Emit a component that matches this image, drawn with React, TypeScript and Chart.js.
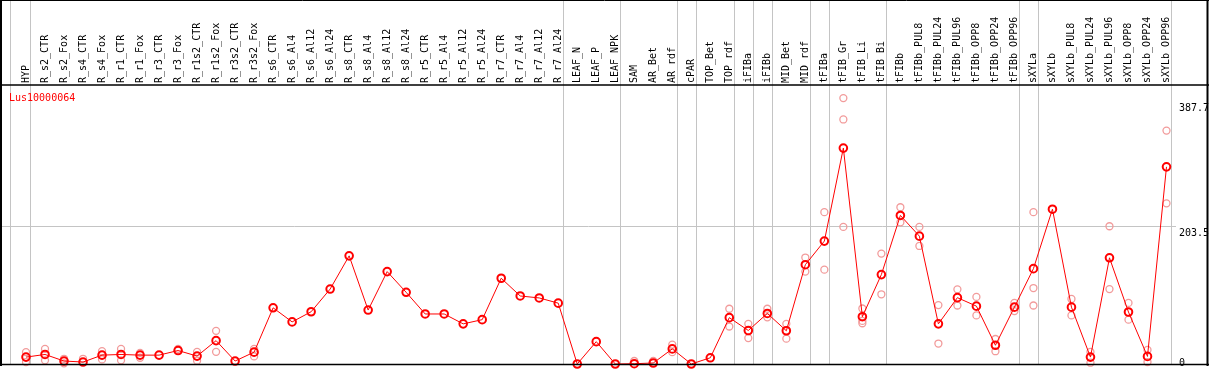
import React, { useEffect, useRef } from 'react';
import { Chart, registerables } from 'chart.js';

Chart.register(...registerables);

const FONT = "'DejaVu Sans Mono', 'Liberation Mono', monospace";

const titleText = 'Lus10000064';

const categories = [
  'HYP', 'R_s2_CTR', 'R_s2_Fox', 'R_s4_CTR', 'R_s4_Fox', 'R_r1_CTR', 'R_r1_Fox', 'R_r3_CTR', 'R_r3_Fox',
  'R_r1s2_CTR', 'R_r1s2_Fox', 'R_r3s2_CTR', 'R_r3s2_Fox', 'R_s6_CTR', 'R_s6_Al4', 'R_s6_Al12', 'R_s6_Al24',
  'R_s8_CTR', 'R_s8_Al4', 'R_s8_Al12', 'R_s8_Al24', 'R_r5_CTR', 'R_r5_Al4', 'R_r5_Al12', 'R_r5_Al24',
  'R_r7_CTR', 'R_r7_Al4', 'R_r7_Al12', 'R_r7_Al24', 'LEAF_N', 'LEAF_P', 'LEAF_NPK', 'SAM', 'AR_Bet', 'AR_rdf',
  'cPAR', 'TOP_Bet', 'TOP_rdf', 'iFIBa', 'iFIBb', 'MID_Bet', 'MID_rdf', 'tFIBa', 'tFIB_Gr', 'tFIB_Li', 'tFIB_Bi',
  'tFIBb', 'tFIBb_PUL8', 'tFIBb_PUL24', 'tFIBb_PUL96', 'tFIBb_OPP8', 'tFIBb_OPP24', 'tFIBb_OPP96',
  'sXYLa', 'sXYLb', 'sXYLb_PUL8', 'sXYLb_PUL24', 'sXYLb_PUL96', 'sXYLb_OPP8', 'sXYLb_OPP24', 'sXYLb_OPP96',
];

const means = [
  10.2, 14.1, 4.4, 2.9, 13.1, 14.1, 13.1, 13.1, 19.9, 11.7, 34.5, 4.4, 17.5,
  83.0, 62.2, 77.2, 110.7, 159.8, 79.7, 136.5, 105.9, 73.9, 73.9, 59.3, 65.5, 126.7, 100.5, 97.6, 89.9,
  0, 33.0, 0, 0.4, 1.5, 22.3, 0, 9.2,
  68.5, 49.5, 74.7, 49.1, 146.7, 181.6, 319.0, 69.9, 132.1,
  219.5, 188.9, 59.3, 98.0, 85.5, 27.7, 84.0, 140.9,
  228.7, 84.0, 10.2, 156.9, 76.8, 11.2, 291.3,
];

const rep1 = [
  17.5, 22.3, 7.7, 7.7, 18.9, 22.3, 16.5, null, 22.3, 18.0, 49.0, null, 22.3,
  null, null, null, null, null, null, null, null, null, null, null, null, null, null, null, null,
  null, null, null,
  4.4, 4.4, 28.7, null, null, 81.6, 59.3, 81.6, 59.3, 157.3, 224.3, 392.9, 82.0, 163.1,
  231.6, 202.5, 87.0, 110.3, 99.1, 36.9, 90.3, 224.3,
  null, 96.1, 17.9, 203.5, 90.3, 20.8, 344.8,
];

const rep2 = [
  2.9, 5.4, 1.0, null, 6.8, 5.4, 9.2, null, null, 4.9, 18.0, null, 11.2,
  null, null, null, null, null, null, null, null, null, null, null, null, null, null, null, null,
  null, null, null,
  null, null, 17.5, null, null, 55.4, 38.3, 68.9, 37.4, 136.5, 139.4, 361.3, 63.7, 103.0,
  209.3, 174.4, 30.2, 86.4, 71.8, 18.9, 78.2, 112.2,
  null, 71.8, 1.9, 110.7, 65.5, 2.9, 237.4,
];

const rep3 = [
  null, null, null, null, null, null, null, null, null, null, null, null, null,
  null, null, null, null, null, null, null, null, null, null, null, null, null, null, null, null,
  null, null, null,
  null, null, null, null, null, null, null, null, null, null, null, 202.5, 60.2, null,
  null, null, null, null, null, null, null, 86.4,
  null, null, null, null, null, null, null,
];

const yTickValues = [0, 203.5, 387.7];
const yTickLabels = ['0', '203.5', '387.7'];
const gridValues = [203.5];
const separatorAfter = [0, 28, 31, 34, 35, 37, 38, 39, 41, 42, 45, 52, 53, 60];
const yMax = 412.2;

export default function App() {
  const ref = useRef<HTMLCanvasElement>(null);

  useEffect(() => {
    document.body.style.margin = '0';
    const canvas = ref.current;
    if (!canvas) return;

    const linesPlugin = {
      id: 'linesPlugin',
      beforeDatasetsDraw(chart: any) {
        const { ctx, chartArea, scales } = chart;
        const xs = scales.x;
        const ys = scales.y;
        ctx.save();
        ctx.strokeStyle = '#c4c4c4';
        ctx.lineWidth = 1;
        for (const v of gridValues) {
          const py = Math.round(ys.getPixelForValue(v)) + 0.5;
          ctx.beginPath();
          ctx.moveTo(1, py);
          ctx.lineTo(chartArea.right, py);
          ctx.stroke();
        }
        const sepXs = [xs.getPixelForValue(0) - 16, ...separatorAfter.map((i) => xs.getPixelForValue(i) + 4.3)];
        for (const sx of sepXs) {
          const px = Math.round(sx) + 0.5;
          ctx.beginPath();
          ctx.moveTo(px, 1);
          ctx.lineTo(px, chartArea.bottom);
          ctx.stroke();
        }
        ctx.restore();
      },
      afterDraw(chart: any) {
        const { ctx, chartArea, width } = chart;
        ctx.save();
        ctx.strokeStyle = '#000';
        ctx.lineWidth = 1;
        ctx.beginPath();
        ctx.moveTo(0, 0.5);
        ctx.lineTo(width, 0.5);
        ctx.stroke();
        ctx.lineWidth = 2;
        ctx.beginPath();
        ctx.moveTo(1, 0);
        ctx.lineTo(1, chartArea.bottom + 2);
        ctx.moveTo(width - 1.5, 0);
        ctx.lineTo(width - 1.5, chartArea.bottom + 2);
        ctx.stroke();
        ctx.lineWidth = 1.5;
        ctx.beginPath();
        ctx.moveTo(0, chartArea.top);
        ctx.lineTo(width, chartArea.top);
        ctx.moveTo(0, chartArea.bottom + 0.5);
        ctx.lineTo(width, chartArea.bottom + 0.5);
        ctx.stroke();
        ctx.fillStyle = '#ff0000';
        ctx.font = `10px ${FONT}`;
        ctx.textBaseline = 'middle';
        ctx.textAlign = 'left';
        ctx.fillText(titleText, 9, chartArea.top + 13);
        ctx.restore();
      },
    };

    const repStyle = {
      type: 'line' as const,
      showLine: false,
      pointRadius: 3.5,
      pointBorderWidth: 1.3,
      pointBorderColor: '#f29b9b',
      pointBackgroundColor: 'rgba(0,0,0,0)',
      borderColor: '#f29b9b',
      clip: false as any,
    };

    const chart = new Chart(canvas, {
      type: 'line',
      data: {
        labels: categories,
        datasets: [
          {
            label: titleText,
            data: means,
            borderColor: '#ff0000',
            borderWidth: 1,
            pointRadius: 3.8,
            pointBorderWidth: 2,
            pointBorderColor: '#ff0000',
            pointBackgroundColor: 'rgba(0,0,0,0)',
            tension: 0,
            clip: false as any,
          },
          { ...repStyle, label: 'rep1', data: rep1 },
          { ...repStyle, label: 'rep2', data: rep2 },
          { ...repStyle, label: 'rep3', data: rep3 },
        ],
      },
      options: {
        animation: false,
        responsive: false,
        devicePixelRatio: 1,
        events: [],
        layout: { padding: { left: 16.5, right: 0, top: 0, bottom: 2 } },
        plugins: {
          legend: { display: false },
          tooltip: { enabled: false },
          title: { display: false },
        },
        scales: {
          x: {
            type: 'category',
            position: 'top',
            offset: true,
            grid: { display: false, drawTicks: false, tickLength: 0 },
            border: { display: false },
            ticks: {
              autoSkip: false,
              maxRotation: 90,
              minRotation: 90,
              padding: 2,
              labelOffset: 12,
              color: '#000',
              font: { family: FONT, size: 10 },
            },
            afterFit(s: any) {
              s.height = 85;
              s.paddingLeft = 0;
              s.paddingRight = 0;
            },
          },
          y: {
            type: 'linear',
            position: 'right',
            min: 0,
            max: yMax,
            grid: { display: false, drawTicks: false, tickLength: 0 },
            border: { display: false },
            afterBuildTicks(s: any) {
              s.ticks = yTickValues.map((v) => ({ value: v }));
            },
            ticks: {
              padding: 3,
              labelOffset: 7,
              color: '#000',
              font: (c: any) =>
                c.tick && c.tick.value === 0
                  ? { family: FONT, size: 10, lineHeight: 1.6 }
                  : { family: FONT, size: 10 },
              callback: (v: any) => {
                const idx = yTickValues.indexOf(Number(v));
                const t = idx >= 0 ? yTickLabels[idx] : '';
                return Number(v) === 0 ? [t, ''] : t;
              },
            },
            afterFit(s: any) {
              s.width = 33;
              s.paddingTop = 0;
              s.paddingBottom = 0;
            },
          },
        },
      },
      plugins: [linesPlugin],
    });

    return () => chart.destroy();
  }, []);

  return (
    <div style={{ width: 1209, height: 370 }}>
      <canvas ref={ref} width={1209} height={370} style={{ display: 'block' }} />
    </div>
  );
}
